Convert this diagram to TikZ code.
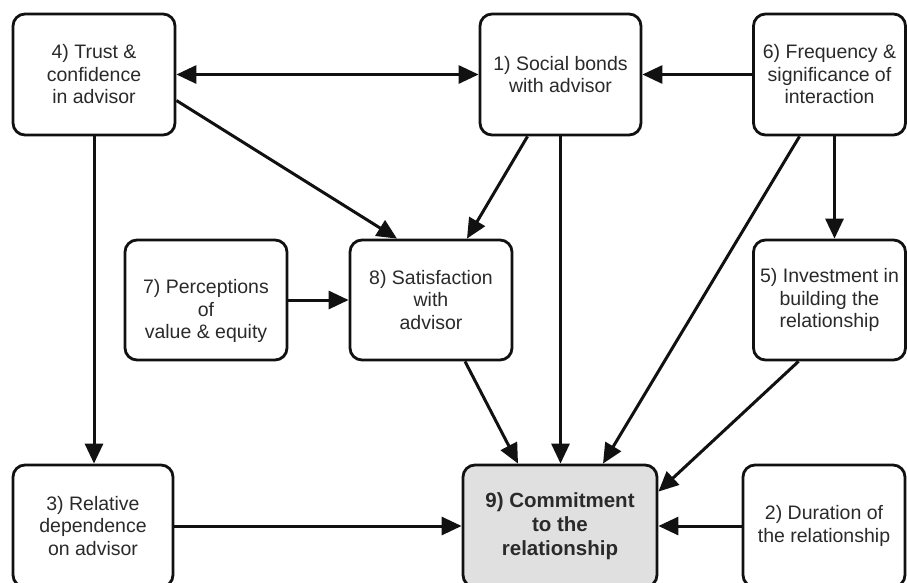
\documentclass[tikz,border=0pt]{standalone}
\usepackage{fontspec}
\setmainfont{Liberation Sans}
\usetikzlibrary{arrows.meta}
\definecolor{txt}{HTML}{2A2A2A}
\definecolor{edge}{HTML}{111111}
\definecolor{grayfill}{HTML}{E0E0E0}
\begin{document}
\begin{tikzpicture}[x=1pt,y=-1pt,
  boxtext/.style={inner sep=0pt, align=center, text=txt,
    font=\fontsize{19.5}{22.5}\selectfont},
  box/.style={boxtext, draw=edge, line width=2.8pt, rounded corners=12pt, fill=white},
  arr/.style={draw=edge, line width=3pt, -{Triangle[length=20pt,width=18pt]}},
  darr/.style={draw=edge, line width=3pt, {Triangle[length=20pt,width=18pt]}-{Triangle[length=20pt,width=18pt]}}
]
\useasboundingbox (0,0) rectangle (907,582);
\fill[white] (0,0) rectangle (907,582);
\clip (0,0) rectangle (907,582);

% top row
\node[box, minimum width=162pt, minimum height=121pt] (n4) at (94,74.5) {4) Trust \&\\confidence\\in advisor};
\node[box, minimum width=161pt, minimum height=121pt] (n1) at (560.5,74.5) {1) Social bonds\\with advisor};
\node[box, minimum width=152pt, minimum height=121pt] (n6) at (829.5,74.5) {6) Frequency \&\\significance of\\interaction};
% middle row
\node[box, minimum width=162pt, minimum height=120pt,
  label={[boxtext, yshift=-11pt]center:{7) Perceptions\\of\\value \& equity}}] (n7) at (206,300) {};
\node[box, minimum width=162pt, minimum height=120pt] (n8) at (431,300) {8) Satisfaction\\with\\advisor};
\node[box, minimum width=152pt, minimum height=120pt] (n5) at (829.5,300) {5) Investment in\\building the\\relationship};
% bottom row
\node[box, minimum width=160pt, minimum height=122pt] (n3) at (93,526) {3) Relative\\dependence\\on advisor};
\node[box, minimum width=194pt, minimum height=122pt, fill=grayfill,
  font=\fontsize{20.5}{24}\selectfont\bfseries] (n9) at (560,526) {9) Commitment\\to the\\relationship};
\node[box, minimum width=162pt, minimum height=122pt] (n2) at (824,526) {2) Duration of\\the relationship};

% connectors
\draw[darr] (n4.east) -- (n1.west);
\draw[arr] (n6.west) -- (n1.east);
\draw[arr] ([yshift=-26pt]n4.east) -- ([xshift=-34pt]n8.north);
\draw[arr] ([xshift=-33pt]n1.south) -- ([xshift=36pt]n8.north);
\draw[arr] (n1.south) -- (n1.south |- n9.north);
\draw[arr] ([xshift=-30pt]n6.south) -- ([xshift=43pt]n9.north);
\draw[arr] ([xshift=5pt]n6.south) -- ([xshift=5pt]n6.south |- n5.north);
\draw[arr] (n7.east) -- (n8.west);
\draw[arr] ([xshift=34pt]n8.south) -- ([xshift=-42pt]n9.north);
\draw[arr] ([xshift=-31pt]n5.south) -- ([yshift=-28pt]n9.north east);
\draw[arr] (n4.south) -- (n4.south |- n3.north);
\draw[arr] (n3.east) -- (n9.west);
\draw[arr] (n2.west) -- (n9.east);
\end{tikzpicture}
\end{document}
